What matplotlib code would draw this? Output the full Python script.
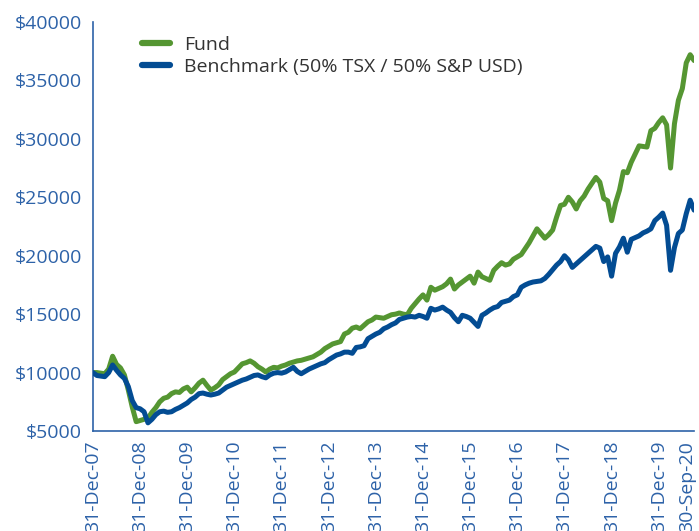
import matplotlib
matplotlib.use("Agg")
from matplotlib import pyplot as plt
from matplotlib.transforms import ScaledTranslation

# month-end values, 31-Dec-07 .. 30-Sep-20 (growth of $10000)
fund = [
    10000, 10000, 9950, 9900, 10300, 11400, 10700, 10400, 9800, 8500,
    7050, 5800, 5900, 6000, 6100, 6600, 7000, 7500, 7800, 7900,
    8200, 8350, 8300, 8600, 8750, 8350, 8700, 9100, 9350, 8900,
    8500, 8700, 8950, 9400, 9650, 9900, 10050, 10400, 10750, 10850,
    11000, 10800, 10500, 10300, 10050, 10300, 10450, 10400, 10550, 10650,
    10800, 10900, 11000, 11050, 11150, 11250, 11350, 11550, 11750, 12050,
    12250, 12450, 12550, 12650, 13300, 13450, 13800, 13900, 13750, 14050,
    14350, 14500, 14750, 14700, 14650, 14800, 14950, 15000, 15100, 15000,
    14950, 15500, 15900, 16300, 16650, 16200, 17300, 17050, 17200, 17350,
    17600, 18000, 17150, 17500, 17750, 18000, 18250, 17650, 18600, 18200,
    18050, 17900, 18750, 19100, 19400, 19200, 19300, 19700, 19900, 20100,
    20600, 21100, 21700, 22300, 21900, 21500, 21800, 22200, 23300, 24300,
    24400, 25000, 24600, 24000, 24700, 25100, 25700, 26200, 26700, 26300,
    24900, 24700, 23000, 24500, 25600, 27200, 27100, 28000, 28700, 29400,
    29350, 29300, 30700, 30900, 31400, 31800, 31200, 27500, 31300, 33300,
    34300, 36500, 37200, 36700,
]
benchmark = [
    10000, 9750, 9700, 9650, 10000, 10650, 10200, 9800, 9500, 8800,
    7600, 7000, 6900, 6650, 5700, 6000, 6400, 6650, 6700, 6600,
    6650, 6850, 7000, 7200, 7400, 7700, 7900, 8200, 8250, 8150,
    8080, 8150, 8250, 8500, 8750, 8900, 9050, 9200, 9350, 9450,
    9600, 9750, 9800, 9650, 9550, 9800, 9950, 10000, 9950, 10050,
    10250, 10450, 10100, 9900, 10100, 10300, 10450, 10600, 10750, 10850,
    11100, 11300, 11500, 11600, 11750, 11750, 11650, 12150, 12200, 12300,
    12900, 13100, 13300, 13450, 13750, 13900, 14100, 14250, 14550, 14650,
    14750, 14800, 14750, 14900, 14800, 14650, 15500, 15350, 15450, 15600,
    15350, 15150, 14700, 14350, 14900, 14800, 14650, 14300, 13950, 14900,
    15100, 15350, 15550, 15650, 16000, 16100, 16200, 16500, 16650, 17300,
    17500, 17650, 17750, 17800, 17850, 18050, 18400, 18800, 19200, 19500,
    20000, 19650, 19000, 19300, 19600, 19900, 20200, 20500, 20800, 20650,
    19500, 19900, 18250, 20200, 20750, 21500, 20300, 21400, 21550, 21700,
    21950, 22100, 22300, 23000, 23300, 23650, 22600, 18750, 20700, 21900,
    22200, 23600, 24750, 23900,
]
tick_pos = [0, 12, 24, 36, 48, 60, 72, 84, 96, 108, 120, 132, 144, 153]
tick_labels = ['31-Dec-07', '31-Dec-08', '31-Dec-09', '31-Dec-10', '31-Dec-11',
               '31-Dec-12', '31-Dec-13', '31-Dec-14', '31-Dec-15', '31-Dec-16',
               '31-Dec-17', '31-Dec-18', '31-Dec-19', '30-Sep-20']
y_ticks = [5000, 10000, 15000, 20000, 25000, 30000, 35000, 40000]

green = '#559632'
navy = '#034c93'
axis_blue = '#2d62a8'

plt.rcParams['font.family'] = ['Open Sans', 'DejaVu Sans']

fig = plt.figure(figsize=(6.99, 5.31), dpi=100)
ax = fig.add_axes([0.133, 0.1883, 0.860, 0.7703])

months = list(range(len(fund)))
ax.plot(months, fund, color=green, lw=3.6, solid_capstyle='round',
        solid_joinstyle='round', label='Fund', zorder=2)
ax.plot(months, benchmark, color=navy, lw=3.6, solid_capstyle='round',
        solid_joinstyle='round', label='Benchmark (50% TSX / 50% S&P USD)', zorder=3)

ax.set_xlim(0, 153)
ax.set_ylim(5000, 40000)
ax.set_yticks(y_ticks)
ax.set_yticklabels(['$' + str(v) for v in y_ticks])
ax.set_xticks(tick_pos)
ax.set_xticklabels(tick_labels, rotation=90)
ax.tick_params(axis='both', length=0, labelsize=14, labelcolor=axis_blue)
ax.tick_params(axis='y', pad=8)
ax.tick_params(axis='x', pad=7)

# last date label sits a little left so it stays inside the picture
last = ax.get_xticklabels()[-1]
last.set_transform(last.get_transform() + ScaledTranslation(-7 / 100, 0, fig.dpi_scale_trans))

for s in ['top', 'right']:
    ax.spines[s].set_visible(False)
for s in ['left', 'bottom']:
    ax.spines[s].set_color(axis_blue)
    ax.spines[s].set_linewidth(1.2)

leg = ax.legend(loc='upper left', bbox_to_anchor=(0.068, 0.985), frameon=False,
                fontsize=14, handlelength=1.45, handletextpad=0.75,
                labelspacing=0.22, borderaxespad=0)
for t in leg.get_texts():
    t.set_color('#333333')
for h in leg.get_lines():
    h.set_linewidth(4.5)
    h.set_solid_capstyle('round')

plt.savefig('out.png', dpi=100)
